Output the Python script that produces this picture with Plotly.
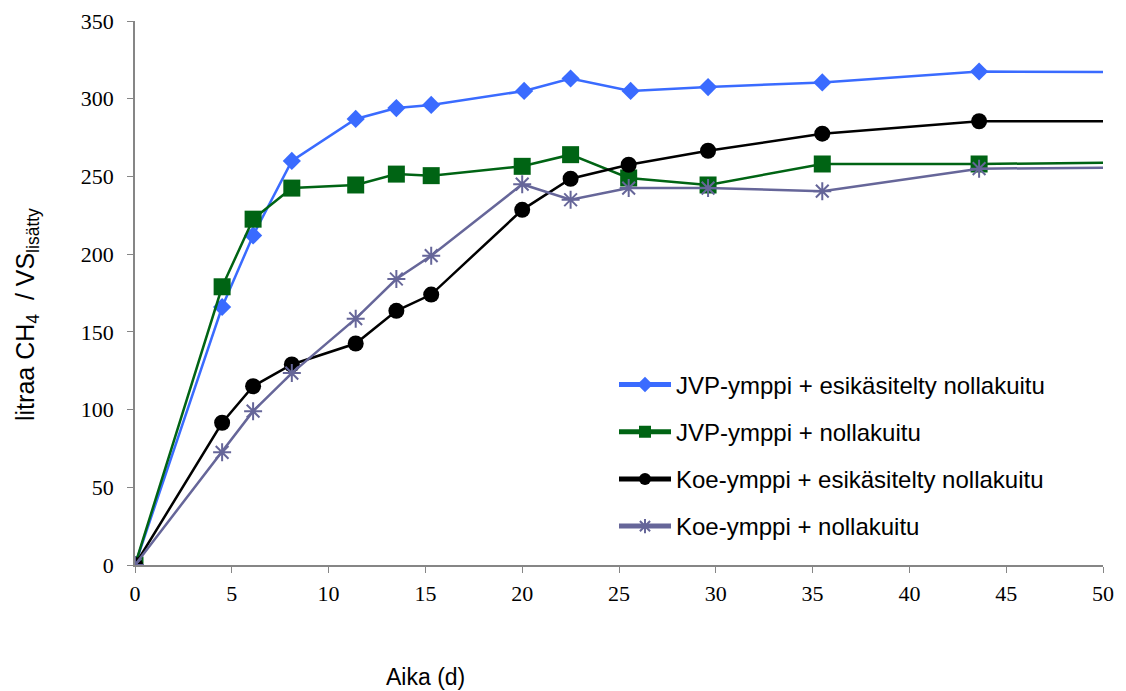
import plotly.graph_objects as go

# Data
days_jvp_pre = [0, 4.5, 6.1, 8.1, 11.4, 13.5, 15.3, 20.1, 22.5, 25.6, 29.6, 35.5, 43.6, 60]
jvp_pre = [0, 166, 212, 260, 287, 294, 296, 305, 313, 305, 307.5, 310.5, 317.5, 316.5]

days_jvp = [0, 4.5, 6.1, 8.1, 11.4, 13.5, 15.3, 20.0, 22.5, 25.5, 29.6, 35.5, 43.6, 60]
jvp = [0, 179, 222.5, 242.5, 244.5, 251.5, 250.5, 256.5, 264, 249, 244.5, 258, 258, 260]

days_koe_pre = [0, 4.5, 6.1, 8.1, 11.4, 13.5, 15.3, 20.0, 22.5, 25.5, 29.6, 35.5, 43.6, 60]
koe_pre = [0, 91.5, 115, 129, 142.5, 163.5, 174, 228.5, 248.5, 257.5, 266.5, 277.5, 285.5, 285.5]

days_koe = [0, 4.5, 6.1, 8.1, 11.4, 13.5, 15.3, 20.0, 22.5, 25.5, 29.6, 35.5, 43.6, 60]
koe = [0, 72.5, 99, 123.5, 158.5, 184, 199, 245, 235, 242.5, 242.5, 240.5, 255, 256.5]

names = [
    "JVP-ymppi + esikäsitelty nollakuitu",
    "JVP-ymppi + nollakuitu",
    "Koe-ymppi + esikäsitelty nollakuitu",
    "Koe-ymppi + nollakuitu",
]
colors = ["#3A6BFF", "#006414", "#000000", "#666699"]
symbols = ["diamond", "square", "circle", "asterisk"]
sizes = [14, 17, 16, 15]

x_ticks = [0, 5, 10, 15, 20, 25, 30, 35, 40, 45, 50]
y_ticks = [0, 50, 100, 150, 200, 250, 300, 350]

fig = go.Figure()
series = [(days_jvp_pre, jvp_pre), (days_jvp, jvp), (days_koe_pre, koe_pre), (days_koe, koe)]
for i, ((xs, ys), name, col, sym, sz) in enumerate(zip(series, names, colors, symbols, sizes)):
    fig.add_trace(go.Scatter(
        x=xs, y=ys, name=name, mode="lines+markers", legendgroup=f"g{i}",
        line=dict(color=col, width=2.5),
        marker=dict(symbol=sym, size=sz, color=col,
                    line=dict(color=col, width=2 if sym == "asterisk" else 0)),
    ))

tick_font = dict(family="Liberation Serif, Times New Roman, serif", size=22, color="#000000")
sans = "Liberation Sans, Arial, sans-serif"

# figure is placed at an 8px body offset in the page
PW, PH = 968, 544
L, T = 127, 13
fig.update_layout(
    width=1118, height=683,
    margin=dict(l=L, r=23, t=T, b=126, autoexpand=False),
    paper_bgcolor="white", plot_bgcolor="white",
    showlegend=True,
    legend=dict(
        x=(606 - L) / PW, y=0.3724, xanchor="left", yanchor="top",
        font=dict(family=sans, size=24, color="#000000"),
        bgcolor="rgba(0,0,0,0)", tracegroupgap=13, itemsizing="constant",
        itemwidth=52,
    ),
    xaxis=dict(
        range=[0, 50], tickvals=x_ticks, ticktext=[str(v) for v in x_ticks],
        showgrid=False, zeroline=False, showline=True, linecolor="#868686", linewidth=1.5,
        ticks="outside", ticklen=6, tickcolor="#868686", tickfont=tick_font,
        ticklabelstandoff=2, automargin=False,
    ),
    yaxis=dict(
        range=[0, 350], tickvals=y_ticks, ticktext=[str(v) for v in y_ticks],
        showgrid=False, zeroline=False, showline=True, linecolor="#868686", linewidth=1.5,
        ticks="outside", ticklen=6, tickcolor="#868686", tickfont=tick_font,
        ticklabelstandoff=9, automargin=False,
    ),
    annotations=[
        dict(
            text="Aika (d)", xref="paper", yref="paper",
            x=(417 - L) / PW, y=(557 - 669) / PH,
            xanchor="center", yanchor="middle", showarrow=False,
            font=dict(family=sans, size=23, color="#000000"),
        ),
        dict(
            text="litraa CH<sub>4</sub>\u00a0 / VS<sub>lisätty</sub>", xref="paper", yref="paper",
            x=(19 - L) / PW, y=(557 - 307) / PH, textangle=-90,
            xanchor="center", yanchor="middle", showarrow=False,
            font=dict(family=sans, size=25, color="#000000"),
        ),
    ],
)

fig.write_html("out.html")
